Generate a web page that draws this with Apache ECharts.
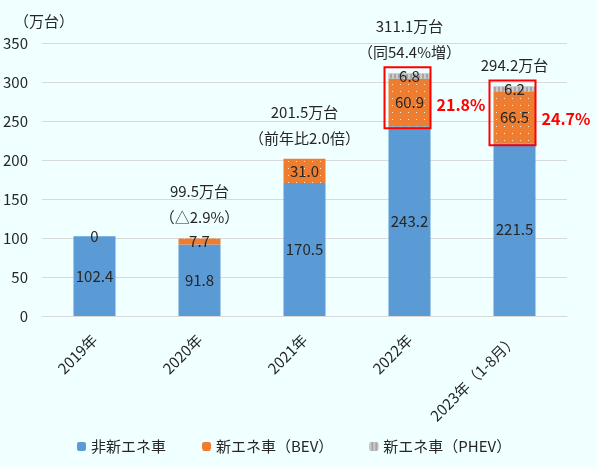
<!DOCTYPE html>
<html><head><meta charset="utf-8">
<script src="https://cdn.jsdelivr.net/npm/echarts@6/dist/echarts.min.js"></script>
<style>html,body{margin:0;padding:0;background:#F0FFFF;}#c{width:597px;height:467px;}</style>
</head><body><div id="c"></div>
<script>
const categories = ['2019年', '2020年', '2021年', '2022年', '2023年（1-8月）'];
const nonNev = [102.4, 91.8, 170.5, 243.2, 221.5];
const bev = [0, 7.7, 31.0, 60.9, 66.5];
const phev = [0, 0, 0, 6.8, 6.2];
const phevLabels = ['', '', '', '6.8', '6.2'];
const totals = [102.4, 99.5, 201.5, 311.1, 294.2];
const totalLine1 = ['', '99.5万台', '201.5万台', '311.1万台', ''];
const totalLine2 = ['', '（△2.9%）', '（前年比2.0倍）', '（同54.4%増）', '294.2万台'];
const shareIdx = [3, 4];
const shareLabels = ['21.8%', '24.7%'];
const yTicks = [0, 50, 100, 150, 200, 250, 300, 350];

const FONT = '"Noto Sans CJK JP", "Noto Sans", sans-serif';
const txt = '#262626';
const FS = 15;
const chart = echarts.init(document.getElementById('c'));

const boxData = shareIdx.map((i, k) => [i, nonNev[i], totals[i], nonNev[i] + bev[i] / 2, shareLabels[k]]);

chart.setOption({
  backgroundColor: '#F0FFFF',
  textStyle: { fontFamily: FONT },
  animation: false,
  grid: { left: 42, right: 30, top: 43, bottom: 151 },
  legend: {
    bottom: 8, left: 72, itemWidth: 9, itemHeight: 9, itemGap: 36,
    textStyle: { fontSize: FS, color: txt, fontFamily: FONT },
    data: ['非新エネ車', '新エネ車（BEV）', '新エネ車（PHEV）']
  },
  xAxis: {
    type: 'category', data: categories,
    axisLine: { lineStyle: { color: '#D9D9D9' } },
    axisTick: { show: false },
    axisLabel: { rotate: 45, color: txt, fontSize: FS, margin: 21, fontFamily: FONT, interval: 0 }
  },
  yAxis: {
    type: 'value', min: 0, max: 350, interval: 50,
    name: '（万台）', nameLocation: 'end', nameGap: 14,
    nameTextStyle: { color: txt, fontSize: FS, align: 'left', padding: [0, 0, 0, -28] },
    axisLine: { show: false }, axisTick: { show: false },
    splitLine: { lineStyle: { color: '#D9D9D9' } },
    axisLabel: { color: txt, fontSize: FS, margin: 14 }
  },
  series: [
    {
      name: '非新エネ車', type: 'bar', stack: 's', barWidth: 42, data: nonNev,
      itemStyle: { color: '#5B9BD5' },
      label: { show: true, position: 'inside', color: txt, fontSize: FS, formatter: p => p.value.toFixed(1) }
    },
    {
      name: '新エネ車（BEV）', type: 'bar', stack: 's', data: bev,
      itemStyle: { color: '#ED7D31', decal: { symbol: 'rect', symbolSize: 1, color: 'rgba(255,255,255,0.85)', dashArrayX: [1, 7], dashArrayY: [1, 6] } },
      label: { show: true, position: 'inside', color: txt, fontSize: FS,
        formatter: p => p.value === 0 ? '0' : p.value.toFixed(1) }
    },
    {
      name: '新エネ車（PHEV）', type: 'bar', stack: 's',
      data: phev,
      itemStyle: { color: '#A5A5A5', decal: { symbol: 'rect', symbolSize: 1, color: 'rgba(210,210,210,0.9)', dashArrayX: [2, 2], dashArrayY: [1, 0] } },
      label: { show: true, position: 'inside', color: txt, fontSize: FS,
        formatter: p => phevLabels[p.dataIndex] }
    },
    {
      name: 'total', type: 'bar', stack: 's', data: totals.map(() => 0),
      itemStyle: { color: 'transparent' }, silent: true,
      label: { show: true, position: 'top', distance: 8, color: txt, fontSize: FS, lineHeight: 26, align: 'center',
        formatter: p => totalLine1[p.dataIndex] ? totalLine1[p.dataIndex] + '\n' + totalLine2[p.dataIndex] : totalLine2[p.dataIndex] }
    },
    {
      type: 'custom', name: 'box', data: boxData, z: 10, silent: true,
      renderItem: (params, api) => {
        const x = api.value(0);
        const lo = api.coord([x, api.value(1)]);
        const hi = api.coord([x, api.value(2)]);
        const mid = api.coord([x, api.value(3)]);
        const half = api.size([1, 0])[0] * 0.4 / 2;
        return {
          type: 'group', children: [
            { type: 'rect', shape: { x: lo[0] - half - 4, y: hi[1] - 6, width: half * 2 + 4, height: lo[1] - hi[1] + 8 },
              style: { fill: 'none', stroke: '#FF0000', lineWidth: 2 } },
            { type: 'text', x: lo[0] + half + 6, y: mid[1] + 2,
              style: { text: api.value(4), fill: '#FF0000', font: 'bold 16px ' + FONT, textVerticalAlign: 'middle' } }
          ]
        };
      }
    }
  ]
});
</script></body></html>
